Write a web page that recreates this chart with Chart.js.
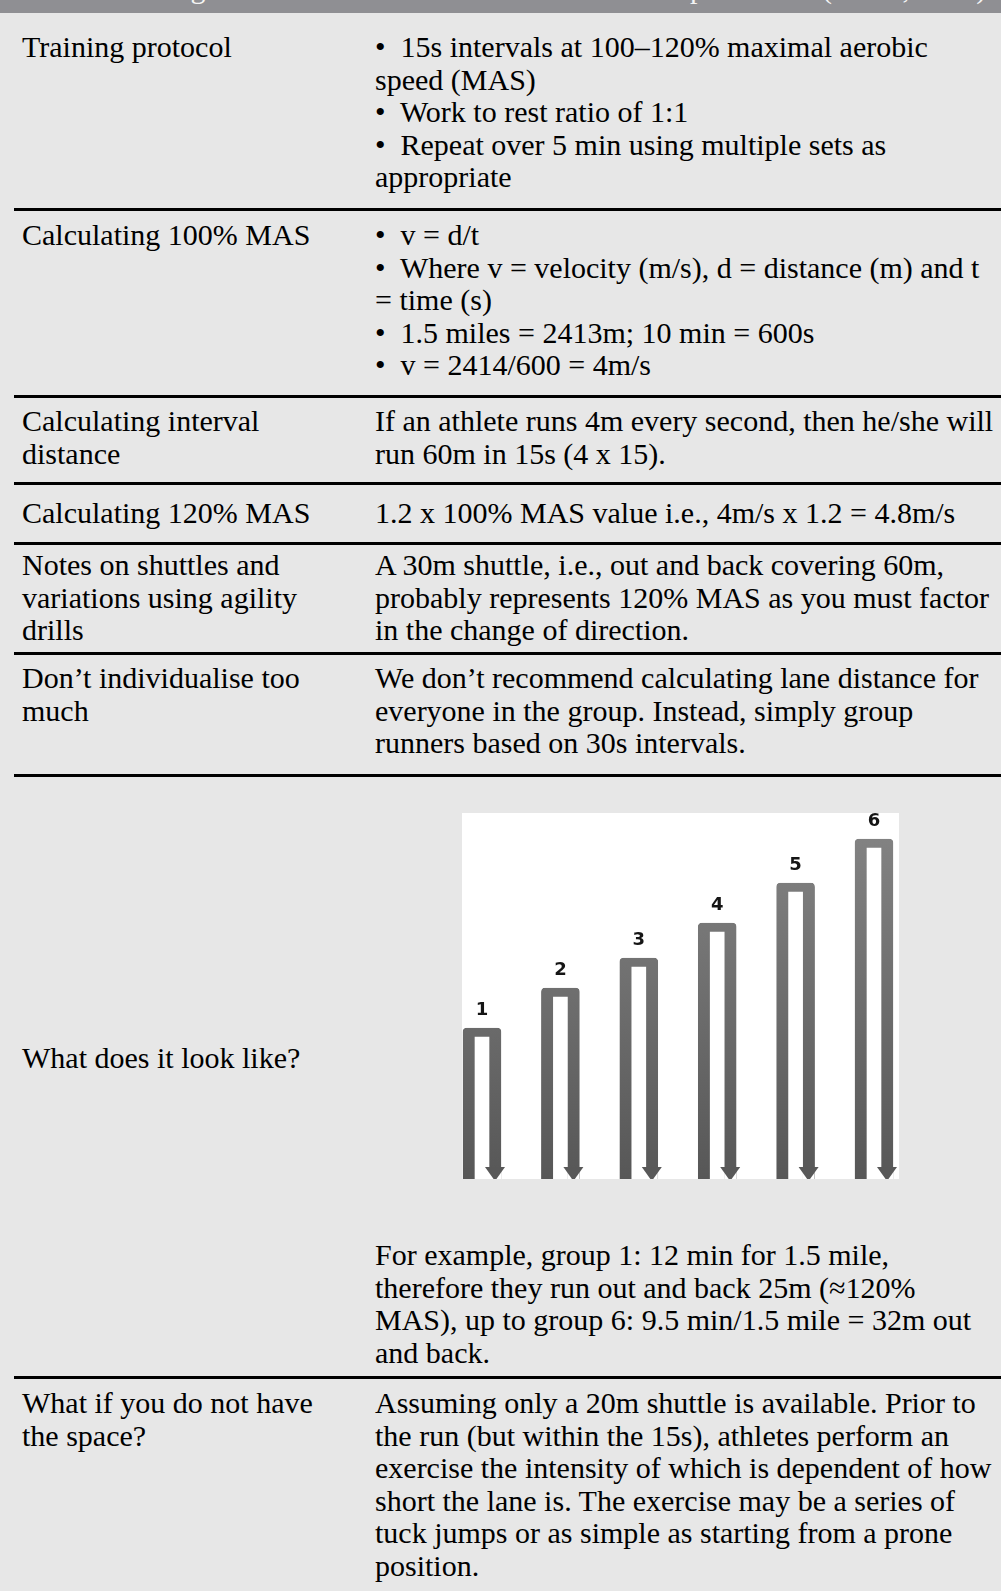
<!DOCTYPE html>
<html>
<head>
<meta charset="utf-8">
<script src="https://cdn.jsdelivr.net/npm/chart.js@4.4.1/dist/chart.umd.min.js"></script>
<style>
html,body{margin:0;padding:0;background:#e7e7e7;width:1001px;height:1591px;overflow:hidden;}
body{position:relative;font-family:"Liberation Serif","Times New Roman",serif;font-size:30px;line-height:32.5px;color:#000;}
#band{position:absolute;left:0;top:0;width:1001px;height:13px;background:#8f8f93;overflow:hidden;}
#band span{position:absolute;top:-27px;color:#f4f4f4;font-size:30px;line-height:30px;white-space:nowrap;}
.sep{position:absolute;left:14px;width:987px;height:3px;background:#000;}
.t{position:absolute;white-space:nowrap;}
.l{left:22px;}
.r{left:375px;}
.r p{margin:0;}
#chartBox{position:absolute;left:462px;top:813px;width:437px;height:366px;background:#fff;}
</style>
</head>
<body>
<div id="band">
  <span style="left:6px;">Table 1 Running</span>
  <span style="left:330px;">drills in the MAS interval</span>
  <span style="left:690px;">protocol</span>
  <span style="left:822px;">(Baker, 2011)</span>
</div>

<!-- row 1 -->
<div class="t l" style="top:31px;">Training protocol</div>
<div class="t r" style="top:31px;">
<p>•&nbsp; 15s intervals at 100–120% maximal aerobic<br>speed (MAS)</p>
<p>•&nbsp; Work to rest ratio of 1:1</p>
<p>•&nbsp; Repeat over 5 min using multiple sets as<br>appropriate</p>
</div>
<div class="sep" style="top:208px;"></div>

<!-- row 2 -->
<div class="t l" style="top:219px;">Calculating 100% MAS</div>
<div class="t r" style="top:219px;">
<p>•&nbsp; v = d/t</p>
<p>•&nbsp; Where v = velocity (m/s), d = distance (m) and t<br>= time (s)</p>
<p>•&nbsp; 1.5 miles = 2413m; 10 min = 600s</p>
<p>•&nbsp; v = 2414/600 = 4m/s</p>
</div>
<div class="sep" style="top:395px;"></div>

<!-- row 3 -->
<div class="t l" style="top:405px;">Calculating interval<br>distance</div>
<div class="t r" style="top:405px;">If an athlete runs 4m every second, then he/she will<br>run 60m in 15s (4 x 15).</div>
<div class="sep" style="top:482px;"></div>

<!-- row 4 -->
<div class="t l" style="top:497px;">Calculating 120% MAS</div>
<div class="t r" style="top:497px;">1.2 x 100% MAS value i.e., 4m/s x 1.2 = 4.8m/s</div>
<div class="sep" style="top:542px;"></div>

<!-- row 5 -->
<div class="t l" style="top:549px;">Notes on shuttles and<br>variations using agility<br>drills</div>
<div class="t r" style="top:549px;">A 30m shuttle, i.e., out and back covering 60m,<br>probably represents 120% MAS as you must factor<br>in the change of direction.</div>
<div class="sep" style="top:652px;"></div>

<!-- row 6 -->
<div class="t l" style="top:662px;">Don’t individualise too<br>much</div>
<div class="t r" style="top:662px;">We don’t recommend calculating lane distance for<br>everyone in the group. Instead, simply group<br>runners based on 30s intervals.</div>
<div class="sep" style="top:774px;"></div>

<!-- row 7 -->
<div class="t l" style="top:1042px;">What does it look like?</div>
<div id="chartBox"><canvas id="c" width="437" height="366"></canvas></div>
<div class="t r" style="top:1239px;">For example, group 1: 12 min for 1.5 mile,<br>therefore they run out and back 25m (≈120%<br>MAS), up to group 6: 9.5 min/1.5 mile = 32m out<br>and back.</div>
<div class="sep" style="top:1376px;"></div>

<!-- row 8 -->
<div class="t l" style="top:1387px;">What if you do not have<br>the space?</div>
<div class="t r" style="top:1387px;">Assuming only a 20m shuttle is available. Prior to<br>the run (but within the 15s), athletes perform an<br>exercise the intensity of which is dependent of how<br>short the lane is. The exercise may be a series of<br>tuck jumps or as simple as starting from a prone<br>position.</div>

<script>
// ---- data ----
const groups = ['1', '2', '3', '4', '5', '6'];          // group numbers above each lane
const laneHeights = [151, 191, 221, 256, 296, 340];     // drawn lane heights (diagram units)
const diagramMax = 366;                                  // full diagram height (diagram units)

const legGradient = (c) => {
  const {ctx, chartArea} = c.chart;
  if (!chartArea) return '#6a6a6a';
  const g = ctx.createLinearGradient(0, chartArea.top, 0, chartArea.bottom);
  g.addColorStop(0, '#858585');
  g.addColorStop(1, '#575757');
  return g;
};

const arrowsAndLabels = {
  id: 'arrowsAndLabels',
  afterDatasetsDraw(chart) {
    const ctx = chart.ctx;
    const meta = chart.getDatasetMeta(0);
    const bw = 12;
    meta.data.forEach((bar, i) => {
      const p = bar.getProps(['x', 'y', 'base', 'width'], true);
      const legCx = p.x + p.width / 2 - bw / 2;
      const headH = 12;
      ctx.save();
      ctx.fillStyle = '#ffffff';
      ctx.fillRect(p.x + p.width / 2 - bw, p.base - headH, bw, headH);
      ctx.fillStyle = '#585858';
      ctx.beginPath();
      ctx.moveTo(legCx - 10, p.base - headH);
      ctx.lineTo(legCx + 10, p.base - headH);
      ctx.lineTo(legCx, p.base + 2);
      ctx.closePath();
      ctx.fill();
      ctx.fillStyle = '#151515';
      ctx.font = 'bold 18px "DejaVu Sans", sans-serif';
      ctx.textAlign = 'center';
      ctx.textBaseline = 'middle';
      ctx.fillText(chart.data.labels[i], p.x, p.y - 18);
      ctx.restore();
    });
  }
};

new Chart(document.getElementById('c'), {
  type: 'bar',
  data: {
    labels: groups,
    datasets: [{
      data: laneHeights,
      backgroundColor: '#ffffff',
      borderColor: legGradient,
      borderWidth: {top: 9, left: 12, right: 12, bottom: 0},
      borderRadius: {topLeft: 4, topRight: 4, bottomLeft: 0, bottomRight: 0},
      borderSkipped: 'bottom',
      barThickness: 38,
      clip: false
    }]
  },
  options: {
    responsive: false,
    animation: false,
    devicePixelRatio: 1,
    layout: {padding: {left: 20, right: 25, top: 0, bottom: 0}},
    scales: {
      x: {display: false, offset: false},
      y: {display: false, min: 0, max: diagramMax}
    },
    plugins: {legend: {display: false}, tooltip: {enabled: false}}
  },
  plugins: [arrowsAndLabels]
});
</script>
</body>
</html>
